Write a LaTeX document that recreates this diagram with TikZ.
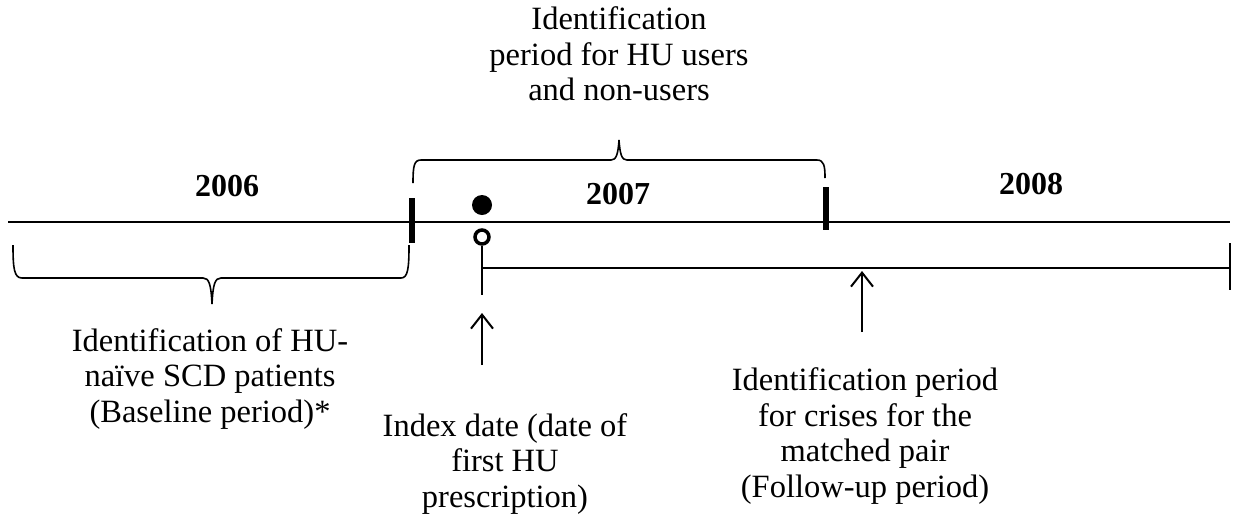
\documentclass[tikz,border=0pt]{standalone}
\usepackage{fontspec}
\setmainfont{Liberation Serif}
\usetikzlibrary{arrows.meta}
\tikzset{
  lbl/.style={align=center,font=\fontsize{32.5}{35.5}\selectfont,inner sep=0pt},
  year/.style={font=\fontsize{32}{36}\selectfont\bfseries,inner sep=0pt},
  tick/.style={line width=6pt},
  upar/.style={line width=2pt,-{Straight Barb[length=14pt,width=22pt,line width=2pt]}}
}
\begin{document}
\begin{tikzpicture}[x=1pt,y=-1pt]
\useasboundingbox (0,0) rectangle (1233,515);
% timeline
\coordinate (t0) at (8,222);
\coordinate (t1) at (1230,222);
\draw[line width=1.7pt] (t0) -- (t1);
\node[year] (y6) at (227,186) {2006};
\node[year] (y7) at (618,194) {2007};
\node[year] (y8) at (1031,184) {2008};
\draw[tick] (412,198) -- (412,243);
\draw[tick] (826,187) -- (826,230);
% index date markers
\node[circle,fill,inner sep=0pt,minimum size=20pt] (dot) at (482,205) {};
\node[circle,draw,line width=3.5pt,inner sep=0pt,minimum size=14pt] (ring) at (482,237) {};
% follow-up period
\coordinate (fu0) at (482,268);
\coordinate (fu1) at (1230,268);
\draw[line width=2pt] (ring.south) -- (482,295);
\draw[line width=2pt] (fu0) -- (fu1);
\draw[line width=2pt] (1230,243) -- (1230,290);
% braces
\draw[line width=1.6pt] (13,245) .. controls (13,268) and (14,278) .. (22,278) -- (203,278)
  .. controls (209,278) and (211,284) .. (212,304)
  .. controls (213,284) and (215,278) .. (221,278) -- (401,278)
  .. controls (408,278) and (409,268) .. (409,245);
\draw[line width=1.6pt] (413,183) .. controls (413,166) and (414,160) .. (421,160) -- (611,160)
  .. controls (616,160) and (618,155) .. (619,140)
  .. controls (620,155) and (622,160) .. (627,160) -- (817,160)
  .. controls (824,160) and (825,166) .. (825,178);
% labels
\node[lbl] (top) at (619,54) {Identification\\period for HU users\\and non-users};
\node[lbl] (base) at (210,379) {Identification of HU-\\naïve SCD patients\\(Baseline period)*};
\node[lbl] (idx) at (505,464) {Index date (date of\\first HU\\prescription)};
\node[lbl] (fol) at (865,436) {Identification period\\for crises for the\\matched pair\\(Follow-up period)};
\coordinate (a1) at (482,365);
\coordinate (a2) at (862,332);
\draw[upar] (a1) -- (482,313);
\draw[upar] (a2) -- (862,271);
\end{tikzpicture}
\end{document}
